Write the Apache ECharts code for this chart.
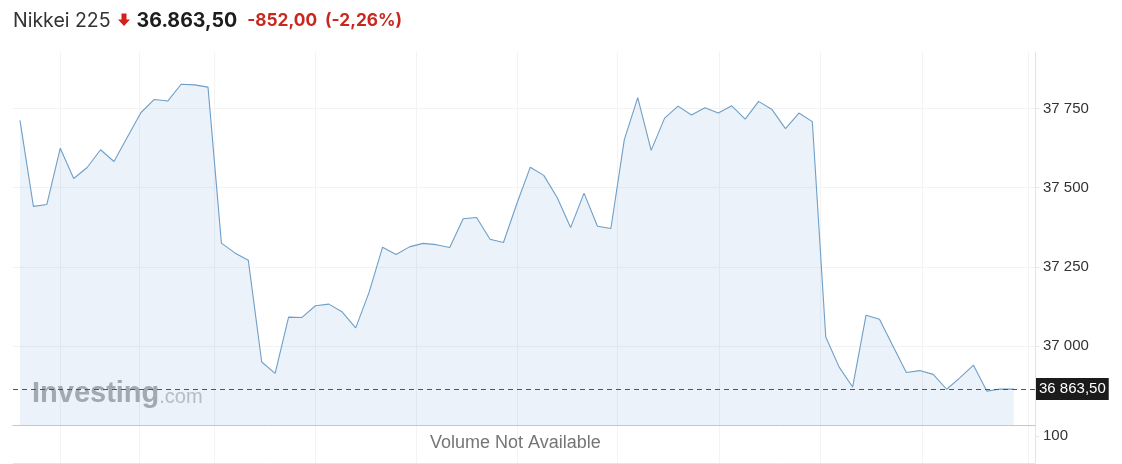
<!DOCTYPE html>
<html>
<head>
<meta charset="utf-8">
<script src="https://cdn.jsdelivr.net/npm/echarts@6/dist/echarts.min.js"></script>
<style>
html,body{margin:0;padding:0;background:#fff;}
#c{width:1122px;height:464px;}
</style>
</head>
<body>
<div id="c"></div>
<script>
// ---- data ----
const indexName = 'Nikkei 225';
const lastPrice = '36.863,50';
const changeAbs = '-852,00';
const changePct = '(-2,26%)';
const lastLabel = '36 863,50';
const volumeText = 'Volume Not Available';
const prices = [37713, 37441, 37447, 37625, 37529, 37564, 37620, 37583, 37660, 37737,
  37779, 37774, 37827, 37825, 37818, 37325, 37294, 37271, 36949, 36913,
  37091, 37090, 37127, 37132, 37107, 37057, 37170, 37312, 37289, 37313,
  37324, 37320, 37311, 37402, 37406, 37337, 37327, 37450, 37565, 37539,
  37469, 37374, 37483, 37378, 37371, 37652, 37785, 37618, 37720, 37758,
  37730, 37753, 37736, 37759, 37717, 37773, 37747, 37687, 37736, 37709,
  37028, 36933, 36870, 37097, 37084, 37000, 36916, 36922, 36910, 36863,
  36900, 36939, 36857, 36864, 36863.5];
const yTicks = [37000, 37250, 37500, 37750];
const volumeTicks = [100];
const timeGridIdx = [2.98, 8.9, 14.5, 22.0, 29.5, 37.0, 44.5, 52.1, 59.6, 67.2, 75.1];

// ---- chart ----
const chart = echarts.init(document.getElementById('c'), null, {renderer: 'canvas'});
const fmt = v => String(v).replace(/\B(?=(\d{3})+(?!\d))/g, ' ');
const gridColor = '#f3f3f3';
const axisFont = 'Liberation Sans, Arial, sans-serif';

const vLines = timeGridIdx.map(x => ({xAxis: x}));
const gridMarkLine = {
  silent: true, symbol: 'none', animation: false, z: 0,
  lineStyle: {color: gridColor, type: 'solid', width: 1},
  label: {show: false},
  data: vLines
};

chart.setOption({
  animation: false,
  backgroundColor: '#ffffff',
  title: [{
    left: 8, top: 6,
    text: '{name|' + indexName + '}{gap|}{price|' + lastPrice + '}{chg|' + changeAbs + '}{chg|' + changePct + '}',
    textStyle: {
      rich: {
        name: {fontFamily: 'Inter, sans-serif', fontSize: 19.5, color: '#333333', fontWeight: 'normal'},
        gap: {width: 26},
        price: {fontFamily: 'Inter, sans-serif', fontSize: 19.6, color: '#1d1d1d', fontWeight: 'bold', padding: [0, 10, 0, 0]},
        chg: {fontFamily: 'Inter, sans-serif', fontSize: 17.3, color: '#c8281e', fontWeight: 'bold', padding: [0, 8, 0, 0]}
      }
    }
  }],
  graphic: [
    {
      type: 'polygon', left: 118, top: 13.5, silent: true,
      shape: {points: [[3.5, 0], [8.5, 0], [8.5, 6], [12, 6], [6, 12.5], [0, 6], [3.5, 6]]},
      style: {fill: '#d1221b'}
    },
    {
      type: 'text', left: 32, top: 379, z: 1, silent: true,
      style: {
        text: '{a|Investing}{b|.com}',
        rich: {
          a: {fontFamily: 'Liberation Sans, Arial, sans-serif', fontWeight: 'bold', fontSize: 29, fill: '#a9abae'},
          b: {fontFamily: 'Liberation Sans, Arial, sans-serif', fontSize: 20, fill: '#bfc1c4', padding: [8, 0, 0, 0]}
        }
      }
    },
    {
      type: 'text', left: 430, top: 434, silent: true,
      style: {text: volumeText, fontFamily: 'Liberation Sans, Arial, sans-serif', fontSize: 18, fill: '#757575'}
    }
  ],
  grid: [
    {left: 13, right: 87, top: 52, height: 373},
    {left: 13, right: 87, top: 425, height: 38}
  ],
  xAxis: [
    {gridIndex: 0, type: 'value', min: -0.52, max: 75.58,
      axisLine: {show: true, onZero: false, lineStyle: {color: '#c6c6c6', width: 1}},
      axisTick: {show: false}, axisLabel: {show: false}, splitLine: {show: false}},
    {gridIndex: 1, type: 'value', min: -0.52, max: 75.58,
      axisLine: {show: true, onZero: false, lineStyle: {color: '#e4e4e4', width: 1}},
      axisTick: {show: false}, axisLabel: {show: false}, splitLine: {show: false}}
  ],
  yAxis: [
    {gridIndex: 0, type: 'value', position: 'right', min: 36750, max: 37929, interval: 250,
      axisLine: {show: true, onZero: false, lineStyle: {color: '#e4e4e4'}},
      axisTick: {show: true, length: 4, lineStyle: {color: '#e4e4e4'}},
      axisLabel: {show: true, margin: 8, color: '#333333', fontSize: 15, fontFamily: axisFont,
        showMinLabel: false, showMaxLabel: false,
        formatter: v => (yTicks.indexOf(v) >= 0 ? fmt(v) : '')},
      splitLine: {show: true, showMinLine: false, showMaxLine: false, lineStyle: {color: gridColor}}},
    {gridIndex: 1, type: 'value', position: 'right', min: 0, max: 140, interval: 100,
      axisLine: {show: true, onZero: false, lineStyle: {color: '#e4e4e4'}},
      axisTick: {show: true, length: 4, lineStyle: {color: '#e4e4e4'}},
      axisLabel: {show: true, margin: 8, color: '#333333', fontSize: 15, fontFamily: axisFont,
        showMinLabel: false, showMaxLabel: false,
        formatter: v => (volumeTicks.indexOf(v) >= 0 ? String(v) : '')},
      splitLine: {show: false}}
  ],
  series: [
    {
      type: 'scatter', xAxisIndex: 0, yAxisIndex: 0, data: [], z: 0, silent: true,
      markLine: gridMarkLine
    },
    {
      type: 'line', xAxisIndex: 0, yAxisIndex: 0,
      data: prices.map((v, i) => [i, v]),
      showSymbol: false, symbol: 'none',
      lineStyle: {color: '#6f9fc8', width: 1.1},
      areaStyle: {color: 'rgba(110,160,210,0.2)', origin: 'start'},
      z: 2,
      markLine: {
        silent: true, symbol: 'none', animation: false,
        data: [
          {yAxis: prices[prices.length - 1],
            lineStyle: {color: '#555555', type: [5, 4], width: 1},
            label: {show: true, position: 'end', distance: 1, formatter: lastLabel,
              backgroundColor: '#1b1b1b', color: '#ffffff', fontSize: 15, fontFamily: axisFont,
              padding: [4, 3, 3, 3]}}
        ]
      }
    },
    {
      type: 'scatter', xAxisIndex: 1, yAxisIndex: 1, data: [], z: 0, silent: true,
      markLine: gridMarkLine
    }
  ]
});
</script>
</body>
</html>
